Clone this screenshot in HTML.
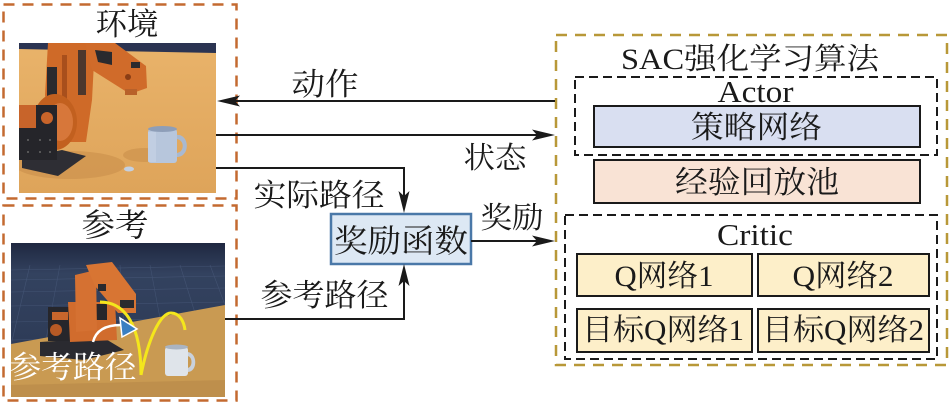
<!DOCTYPE html>
<html><head><meta charset="utf-8"><style>
html,body{margin:0;padding:0;background:#fff;}
svg{display:block;}
text{font-family:"Liberation Serif","Noto Serif CJK SC",serif;fill:#1a1a1a;}
</style></head><body>
<svg width="950" height="405" viewBox="0 0 950 405" xmlns="http://www.w3.org/2000/svg">
<defs>
<clipPath id="c1"><rect x="19" y="43" width="197" height="150"/></clipPath>
<clipPath id="c2"><rect x="11" y="243" width="214" height="154"/></clipPath>
<linearGradient id="fl1" x1="0" y1="0" x2="0" y2="1"><stop offset="0" stop-color="#e9b36a"/><stop offset="1" stop-color="#dea45a"/></linearGradient>
<linearGradient id="bg2" x1="0" y1="0" x2="0" y2="1"><stop offset="0" stop-color="#1f2840"/><stop offset="0.2" stop-color="#33425f"/><stop offset="1" stop-color="#2a3752"/></linearGradient>
</defs>

<!-- top image -->
<g clip-path="url(#c1)">
<rect x="19" y="43" width="197" height="150" fill="url(#fl1)"/>
<polygon points="19,43 216,43 216,53 19,49" fill="#2b3452"/>
<ellipse cx="70" cy="165" rx="55" ry="14" fill="#c98f4b" opacity="0.6"/>
<ellipse cx="145" cy="155" rx="22" ry="7" fill="#c98f4b" opacity="0.6"/>
<polygon points="22,158 62,150 86,156 58,176 22,168" fill="#2e2e34"/>
<!-- upper arm -->
<polygon points="48,43 95,43 92,100 86,142 52,142 45,95" fill="#cf6a28"/>
<rect x="47" y="67" width="10" height="33" fill="#2a2a2e"/>
<rect x="62" y="55" width="5" height="70" fill="#a84f1c"/>
<rect x="78" y="50" width="8" height="45" fill="#2a2a2e" opacity="0.8"/>
<!-- forearm -->
<polygon points="85,43 115,43 146,66 147,88 130,94 92,70" fill="#d06b2a"/>
<polygon points="95,50 112,52 112,65 98,62" fill="#2a2a2e"/>
<rect x="131" y="62" width="9" height="6" fill="#2a2a2e"/>
<circle cx="128" cy="77" r="3" fill="#8a3d15"/>
<rect x="125" y="89" width="12" height="6" fill="#b8612a"/>
<!-- shoulder disk -->
<ellipse cx="55" cy="122" rx="22" ry="28" fill="#c2601f"/>
<ellipse cx="60" cy="122" rx="13" ry="19" fill="#d7773a"/>
<!-- base black -->
<polygon points="19,105 57,105 57,160 19,160" fill="#25252a"/>
<polygon points="19,105 36,105 36,128 19,128" fill="#c8642a"/>
<circle cx="47" cy="118" r="6" fill="#c8642a"/>
<g fill="#666"><circle cx="28" cy="140" r="1"/><circle cx="40" cy="140" r="1"/><circle cx="50" cy="140" r="1"/><circle cx="28" cy="152" r="1"/><circle cx="40" cy="152" r="1"/><circle cx="50" cy="152" r="1"/></g>
<!-- mug -->
<path d="M176,135 C190,133 191,158 176,157 L176,153 C185,153 185,139 176,139 Z" fill="#a9b9d0"/>
<rect x="148" y="129" width="29" height="34" rx="3" fill="#b7c6dc"/>
<ellipse cx="162.5" cy="129" rx="14.5" ry="3" fill="#8e9eb8"/>
<rect x="148" y="132" width="8" height="30" fill="#c8d4e6" opacity="0.6"/>
<ellipse cx="129" cy="169" rx="5" ry="2.5" fill="#c3d0e2"/>
</g>

<!-- bottom image -->
<g clip-path="url(#c2)">
<rect x="11" y="243" width="214" height="154" fill="url(#bg2)"/>
<g stroke="#4a5b7c" stroke-width="0.6" opacity="0.7">
<line x1="11" y1="270" x2="225" y2="266"/><line x1="11" y1="280" x2="225" y2="276"/><line x1="11" y1="292" x2="225" y2="288"/><line x1="11" y1="306" x2="225" y2="302"/><line x1="11" y1="322" x2="225" y2="318"/><line x1="11" y1="340" x2="225" y2="336"/>
<line x1="30" y1="265" x2="11" y2="345"/><line x1="60" y1="265" x2="45" y2="345"/><line x1="90" y1="265" x2="85" y2="345"/><line x1="120" y1="265" x2="125" y2="345"/><line x1="150" y1="265" x2="165" y2="345"/><line x1="180" y1="265" x2="205" y2="345"/><line x1="210" y1="265" x2="240" y2="345"/>
</g>
<polygon points="11,344 225,305 225,397 11,397" fill="#c99a52"/>
<polygon points="11,385 225,380 225,397 11,397" fill="#b8884a" opacity="0.6"/>
<polygon points="40,342 104,338 124,350 84,360 40,356" fill="#2a2a30"/>
<rect x="48" y="307" width="23" height="34" fill="#26262b"/>
<rect x="52" y="312" width="16" height="8" fill="#c8662c"/>
<circle cx="56" cy="330" r="6" fill="#b75a25"/>
<polygon points="68,302 115,302 117,340 70,342" fill="#d16c2d"/>
<rect x="83" y="304" width="24" height="16" fill="#26262b"/>
<polygon points="75,275 96,270 97,330 76,332" fill="#d57132"/>
<polygon points="86,265 112,262 136,294 136,313 118,313 95,286" fill="#d87533"/>
<rect x="98" y="284" width="8" height="7" fill="#2a2a2e"/>
<rect x="120" y="300" width="14" height="8" fill="#2a2a2e"/>
<path d="M100,302 C125,302 141,325 141,375" fill="none" stroke="#f4e61c" stroke-width="3"/>
<path d="M141,375 C148,340 160,313 171,313 C180,313 184,322 185,330" fill="none" stroke="#f4e61c" stroke-width="3"/>
<path d="M93,342 C96,330 106,325 121,325" fill="none" stroke="#ffffff" stroke-width="2.5"/>
<polygon points="120,318 137,329 122,337" fill="#3a7fc2" stroke="#ffffff" stroke-width="1.5"/>
<path d="M187,352 C198,352 198,373 187,372 L187,368 C193,368 193,356 187,356 Z" fill="#c9d1dc"/>
<rect x="165" y="347" width="23" height="29" rx="3" fill="#dfe4ea"/>
<ellipse cx="176.5" cy="347" rx="11.5" ry="2.5" fill="#aab4c2"/>
<text x="73" y="378" font-size="31" text-anchor="middle" textLength="127" lengthAdjust="spacingAndGlyphs" style="fill:#ffffff">参考路径</text>
</g>

<rect x="3.5" y="4.5" width="233" height="194" fill="none" stroke="#c46a30" stroke-width="2.5" stroke-dasharray="11 8"/>
<rect x="3.5" y="205.5" width="233" height="195" fill="none" stroke="#c46a30" stroke-width="2.5" stroke-dasharray="11 8"/>
<text x="127" y="35" font-size="31" text-anchor="middle" textLength="63" lengthAdjust="spacingAndGlyphs">环境</text>
<text x="115" y="236" font-size="32" text-anchor="middle" textLength="67" lengthAdjust="spacingAndGlyphs">参考</text>

<rect x="556" y="35" width="391" height="330" fill="none" stroke="#b89838" stroke-width="2.5" stroke-dasharray="11 8"/>
<text x="750" y="69" font-size="30" text-anchor="middle" textLength="258" lengthAdjust="spacingAndGlyphs">SAC强化学习算法</text>
<rect x="575" y="77" width="362" height="78" fill="none" stroke="#1a1a1a" stroke-width="2" stroke-dasharray="9 5"/>
<text x="755.5" y="102" font-size="31" text-anchor="middle" textLength="76" lengthAdjust="spacingAndGlyphs">Actor</text>
<rect x="594" y="106" width="326" height="41" fill="#d9dff1" stroke="#1a1a1a" stroke-width="2"/>
<text x="756.5" y="138" font-size="31" text-anchor="middle" textLength="131" lengthAdjust="spacingAndGlyphs">策略网络</text>
<rect x="594" y="160" width="326" height="43" fill="#f9e3d5" stroke="#1a1a1a" stroke-width="2"/>
<text x="757" y="193" font-size="31" text-anchor="middle" textLength="164" lengthAdjust="spacingAndGlyphs">经验回放池</text>
<rect x="565" y="215" width="372" height="144" fill="none" stroke="#1a1a1a" stroke-width="2" stroke-dasharray="9 5"/>
<text x="755" y="245" font-size="31" text-anchor="middle" textLength="76" lengthAdjust="spacingAndGlyphs">Critic</text>
<rect x="577" y="254" width="175" height="42" fill="#fdefc9" stroke="#1a1a1a" stroke-width="2"/>
<rect x="758" y="254" width="171" height="42" fill="#fdefc9" stroke="#1a1a1a" stroke-width="2"/>
<rect x="577" y="309" width="175" height="43" fill="#fdefc9" stroke="#1a1a1a" stroke-width="2"/>
<rect x="758" y="309" width="171" height="43" fill="#fdefc9" stroke="#1a1a1a" stroke-width="2"/>
<text x="664" y="286" font-size="30" text-anchor="middle" textLength="99" lengthAdjust="spacingAndGlyphs">Q网络1</text>
<text x="843" y="286" font-size="30" text-anchor="middle" textLength="101" lengthAdjust="spacingAndGlyphs">Q网络2</text>
<text x="663" y="340" font-size="30" text-anchor="middle" textLength="162" lengthAdjust="spacingAndGlyphs">目标Q网络1</text>
<text x="843" y="340" font-size="30" text-anchor="middle" textLength="162" lengthAdjust="spacingAndGlyphs">目标Q网络2</text>

<rect x="331" y="214" width="140" height="50" fill="#dde8f4" stroke="#4a78a8" stroke-width="2.5"/>
<text x="401" y="252" font-size="32" text-anchor="middle" textLength="134" lengthAdjust="spacingAndGlyphs">奖励函数</text>

<g stroke="#1a1a1a" stroke-width="2" fill="none">
<line x1="555" y1="101" x2="234" y2="101"/>
<line x1="216" y1="135" x2="538" y2="135"/>
<polyline points="216,168 404,168 404,197"/>
<polyline points="225,319 404,319 404,280"/>
<line x1="471" y1="241" x2="538" y2="241"/>
</g>
<g fill="#1a1a1a">
<polygon points="217,101 240,95.5 235,101 240,106.5"/>
<polygon points="555,135 532,129.5 537,135 532,140.5"/>
<polygon points="404,213 398.5,191 404,196 409.5,191"/>
<polygon points="404,264 398.5,286 404,281 409.5,286"/>
<polygon points="555,241 532,235.5 537,241 532,246.5"/>
</g>
<text x="325" y="95" font-size="31" text-anchor="middle" textLength="67" lengthAdjust="spacingAndGlyphs">动作</text>
<text x="495" y="168" font-size="30" text-anchor="middle" textLength="63" lengthAdjust="spacingAndGlyphs">状态</text>
<text x="319" y="206" font-size="31" text-anchor="middle" textLength="131" lengthAdjust="spacingAndGlyphs">实际路径</text>
<text x="512" y="228" font-size="30" text-anchor="middle" textLength="63" lengthAdjust="spacingAndGlyphs">奖励</text>
<text x="324.5" y="306" font-size="31" text-anchor="middle" textLength="128" lengthAdjust="spacingAndGlyphs">参考路径</text>
</svg>
</body></html>
